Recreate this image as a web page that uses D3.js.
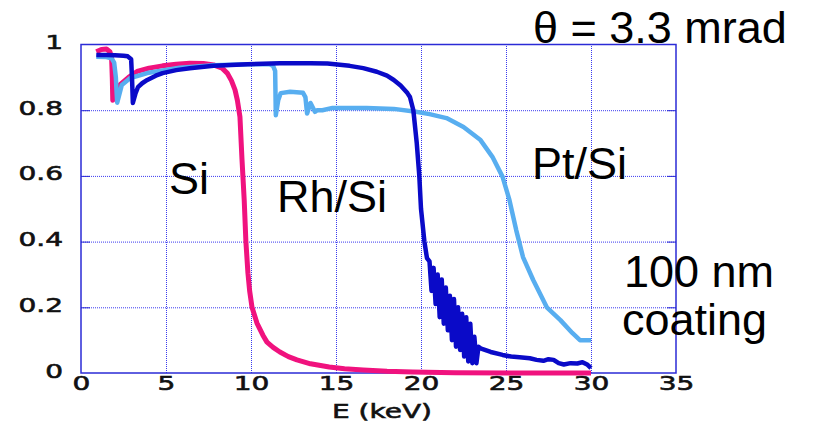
<!DOCTYPE html>
<html>
<head>
<meta charset="utf-8">
<script src="https://cdn.jsdelivr.net/npm/d3@7"></script>
<style>
  body { margin: 0; background: #fff; }
  svg { display: block; }
</style>
</head>
<body>
<svg id="chart" width="817" height="430"></svg>
<script>
// energies (keV) and reflectivity
var si_e = [0.9, 1.2, 1.5, 1.7, 1.8, 1.84, 1.87, 2.0, 2.3, 2.8, 3.3, 4.0, 4.8, 5.6, 6.4, 7.2, 7.8, 8.3, 8.6, 8.85, 9.06, 9.2, 9.35, 9.47, 9.6, 9.7, 9.82, 9.92, 10.06, 10.35, 10.7, 10.94, 11.3, 11.7, 12.2, 12.7, 13.5, 14.6, 15.5, 16.6, 18, 19.5, 22, 26, 30];
var si_r = [0.978, 0.985, 0.986, 0.978, 0.96, 0.9, 0.83, 0.845, 0.878, 0.9, 0.918, 0.928, 0.935, 0.94, 0.943, 0.942, 0.938, 0.928, 0.913, 0.89, 0.862, 0.83, 0.78, 0.65, 0.527, 0.40, 0.304, 0.25, 0.2, 0.152, 0.115, 0.094, 0.078, 0.064, 0.05, 0.04, 0.028, 0.018, 0.013, 0.009, 0.005, 0.003, 0.001, 0.0, 0.0];

var rh_e = [0.9, 1.5, 2.0, 2.5, 2.75, 2.95, 3.0, 3.05, 3.2, 3.35, 3.6, 3.9, 4.4, 4.8, 5.6, 6.4, 7.8, 9.8, 11.7, 13.5, 14.5, 15.8, 16.6, 17.4, 18.0, 18.4, 18.8, 19.2, 19.35, 19.55, 19.75, 19.9, 20.0, 20.2, 20.35,
  20.5, 20.62, 20.74, 20.86, 20.98, 21.1, 21.22, 21.34, 21.46, 21.58, 21.7, 21.82, 21.94, 22.06, 22.18, 22.3, 22.42, 22.54, 22.66, 22.78, 22.9, 23.02, 23.14, 23.26, 23.38,
  23.5, 24.1, 24.8, 25.3, 25.8, 26.4, 26.8, 27.2, 27.5, 27.8, 28.1, 28.4, 28.8, 29.2, 29.5, 29.8, 30.0];
var rh_r = [0.968, 0.968, 0.967, 0.966, 0.964, 0.955, 0.9, 0.822, 0.85, 0.87, 0.882, 0.892, 0.905, 0.913, 0.922, 0.928, 0.935, 0.94, 0.943, 0.943, 0.942, 0.935, 0.928, 0.917, 0.905, 0.892, 0.875, 0.852, 0.84, 0.8, 0.7, 0.6, 0.5, 0.4, 0.35,
  0.34, 0.25, 0.32, 0.21, 0.30, 0.17, 0.285, 0.15, 0.26, 0.13, 0.235, 0.1, 0.225, 0.08, 0.2, 0.07, 0.18, 0.05, 0.17, 0.035, 0.15, 0.03, 0.11, 0.03, 0.08,
  0.075, 0.064, 0.055, 0.05, 0.048, 0.045, 0.04, 0.037, 0.042, 0.04, 0.03, 0.026, 0.03, 0.029, 0.033, 0.025, 0.015];

var pt_e = [0.9, 1.5, 1.8, 1.95, 2.05, 2.1, 2.13, 2.4, 2.9, 3.9, 4.8, 5.8, 7.8, 9.8, 11.1, 11.3, 11.42, 11.46, 11.6, 11.75, 12.3, 13.06, 13.2, 13.3, 13.5, 13.76, 13.9, 14.2, 14.8, 16.8, 18.4, 19.7, 20.5, 21.5, 22.5, 23.5, 24.2, 24.8, 25.2, 25.6, 26.0, 26.6, 27.4, 28.2, 28.9, 29.35, 30];
var pt_r = [0.963, 0.962, 0.958, 0.945, 0.9, 0.85, 0.823, 0.877, 0.898, 0.913, 0.921, 0.929, 0.937, 0.94, 0.94, 0.935, 0.92, 0.785, 0.83, 0.852, 0.856, 0.853, 0.84, 0.79, 0.822, 0.795, 0.8, 0.8, 0.807, 0.807, 0.804, 0.795, 0.788, 0.776, 0.749, 0.709, 0.658, 0.597, 0.527, 0.435, 0.353, 0.283, 0.2, 0.161, 0.122, 0.1, 0.1];

var x_ticks = [0, 5, 10, 15, 20, 25, 30, 35];
var y_ticks = [0, 0.2, 0.4, 0.6, 0.8, 1];
var x_label = 'E (keV)';
var notes = [
  {text: '\u03b8 = 3.3 mrad', x: 533, y: 43},
  {text: 'Si', x: 169, y: 194},
  {text: 'Rh/Si', x: 277, y: 212},
  {text: 'Pt/Si', x: 532, y: 179},
  {text: '100 nm', x: 624, y: 287},
  {text: 'coating', x: 622, y: 335}
];

var svg = d3.select('#chart');
var pl = 81, pr = 676, ptop = 44.5, pb = 373;
var stretch = 1.4; // tick labels are drawn wide in the original

var x = d3.scaleLinear().domain([0, 35]).range([pl, pr]);
var y = d3.scaleLinear().domain([0, 1]).range([pb, ptop]);

var frame_col = '#2b2bd6';

// dotted grid
svg.append('g')
    .attr('transform', 'translate(0,' + pb + ')')
    .call(d3.axisBottom(x).tickValues(x_ticks.slice(1, -1)).tickSize(-(pb - ptop)).tickFormat(''))
    .call(function(g) { g.select('.domain').remove(); })
    .selectAll('line')
    .attr('stroke', '#3a3af0')
    .attr('stroke-dasharray', '1,1');

svg.append('g')
    .attr('transform', 'translate(' + pl + ',0)')
    .call(d3.axisLeft(y).tickValues(y_ticks.slice(1, -1)).tickSize(-(pr - pl)).tickFormat(''))
    .call(function(g) { g.select('.domain').remove(); })
    .selectAll('line')
    .attr('stroke', '#3a3af0')
    .attr('stroke-dasharray', '1,1');

// short solid inner ticks on left and right
svg.append('g')
    .attr('transform', 'translate(' + pl + ',0)')
    .call(d3.axisRight(y).tickValues(y_ticks.slice(1, -1)).tickSize(9).tickFormat(''))
    .call(function(g) { g.select('.domain').remove(); })
    .selectAll('line').attr('stroke', frame_col);
svg.append('g')
    .attr('transform', 'translate(' + pr + ',0)')
    .call(d3.axisLeft(y).tickValues(y_ticks.slice(1, -1)).tickSize(9).tickFormat(''))
    .call(function(g) { g.select('.domain').remove(); })
    .selectAll('line').attr('stroke', frame_col);

// frame
svg.append('rect')
    .attr('x', pl).attr('y', ptop)
    .attr('width', pr - pl).attr('height', pb - ptop)
    .attr('fill', 'none')
    .attr('stroke', frame_col)
    .attr('stroke-width', 1.5);

var style_tick = function(sel) {
    sel.attr('transform', 'scale(' + stretch + ',1)')
       .style('font-family', '"DejaVu Sans", sans-serif')
       .style('font-size', '20px')
       .attr('fill', '#111')
       .attr('stroke', '#111')
       .attr('stroke-width', 0.6);
};

// tick labels
var xa = svg.append('g')
    .attr('transform', 'translate(0,' + pb + ')')
    .call(d3.axisBottom(x).tickValues(x_ticks).tickSize(0).tickFormat(function(d) { return d; }));
xa.select('.domain').remove();
xa.selectAll('text')
    .attr('y', 3)
    .attr('dy', '0.71em')
    .call(style_tick);

var ya = svg.append('g')
    .attr('transform', 'translate(' + pl + ',0)')
    .call(d3.axisLeft(y).tickValues(y_ticks).tickSize(0).tickFormat(function(d) { return d; }));
ya.select('.domain').remove();
ya.selectAll('text')
    .attr('x', -18 / stretch)
    .attr('y', -3)
    .attr('dy', '0.35em')
    .call(style_tick);

svg.append('text')
    .attr('transform', 'translate(' + 382 + ',418)')
    .attr('text-anchor', 'middle')
    .text(x_label)
    .call(style_tick)
    .attr('transform', 'translate(382,418) scale(' + stretch + ',1)');

// curves
var line = d3.line()
    .x(function(d) { return x(d[0]); })
    .y(function(d) { return y(d[1]); });

var series = [
  {e: si_e, r: si_r, col: '#f0127e', w: 5},
  {e: pt_e, r: pt_r, col: '#58aef0', w: 4.5},
  {e: rh_e, r: rh_r, col: '#0a0ac8', w: 4.5}
];

series.forEach(function(s) {
    svg.append('path')
        .datum(d3.zip(s.e, s.r))
        .attr('d', line)
        .attr('fill', 'none')
        .attr('stroke', s.col)
        .attr('stroke-width', s.w)
        .attr('stroke-linejoin', 'round');
});

// annotations
svg.selectAll('text.note')
    .data(notes)
    .enter()
    .append('text')
    .attr('class', 'note')
    .attr('x', function(d) { return d.x; })
    .attr('y', function(d) { return d.y; })
    .style('font-family', '"Liberation Sans", Arial, sans-serif')
    .style('font-size', '45px')
    .attr('fill', '#000')
    .text(function(d) { return d.text; });
</script>
</body>
</html>
